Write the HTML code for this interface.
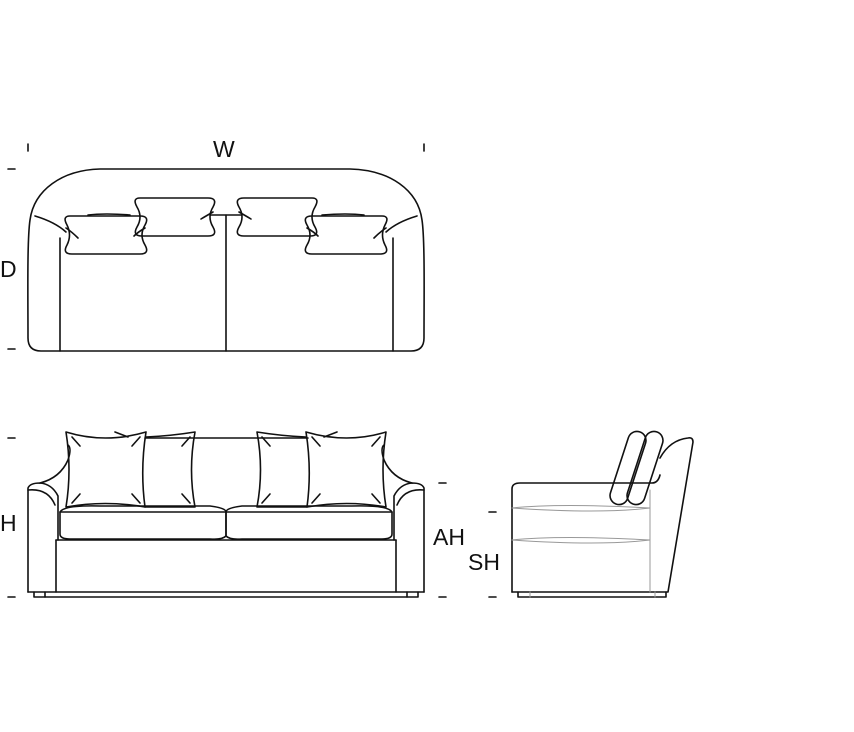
<!DOCTYPE html>
<html><head><style>html,body{margin:0;padding:0;background:#fff}svg{display:block}
text{font-family:"Liberation Sans",sans-serif;font-size:23px;fill:#111}</style></head>
<body>
<svg width="854" height="732" viewBox="0 0 854 732" xmlns="http://www.w3.org/2000/svg">
<g stroke="#111" stroke-width="1.6" fill="none" stroke-linejoin="round" stroke-linecap="round">
<!-- dimension ticks -->
<line x1="28" y1="144" x2="28" y2="151"/><line x1="424" y1="144" x2="424" y2="151"/>
<line x1="8" y1="169" x2="15" y2="169"/><line x1="8" y1="349" x2="15" y2="349"/>
<line x1="8" y1="438" x2="15" y2="438"/><line x1="8" y1="597" x2="15" y2="597"/>
<line x1="439" y1="483" x2="446" y2="483"/><line x1="439" y1="597" x2="446" y2="597"/>
<line x1="489" y1="512" x2="496" y2="512"/><line x1="489" y1="597" x2="496" y2="597"/>

<!-- TOP VIEW -->
<path d="M100,169 L350,169 C390,170 418,190 422,220 C425,240 424,300 424,338 Q424,351 411,351 L41,351 Q28,351 28,338 C28,300 27,240 30,220 C34,190 62,170 100,169 Z"/>
<line x1="60" y1="238" x2="60" y2="351"/>
<line x1="393" y1="238" x2="393" y2="351"/>
<line x1="226" y1="215" x2="226" y2="351"/>
<line x1="210" y1="215" x2="242" y2="215"/>
<path d="M35,216 Q55,222 66,232"/>
<path d="M417,216 Q397,222 386,232"/>
<!-- pillows left -->
<path d="M70,216 L140,216 Q150,216 145,225 Q139,235 145,245 Q150,254 140,254 L72,254 Q62,254 67,245 Q72,235 67,225 Q62,216 70,216 Z"/>
<path d="M88,215 Q105,213 130,215"/>
<path d="M140,198 L208,198 Q218,198 213,207 Q207,217 213,227 Q218,236 208,236 L142,236 Q132,236 137,227 Q143,217 137,207 Q132,198 140,198 Z"/>
<path d="M66,228 Q72,232 78,238"/><path d="M145,228 Q138,232 134,236"/><path d="M213,212 Q206,216 201,219"/>
<!-- pillows right -->
<path d="M382,216 L312,216 Q302,216 307,225 Q313,235 307,245 Q302,254 312,254 L380,254 Q390,254 385,245 Q380,235 385,225 Q390,216 382,216 Z"/>
<path d="M364,215 Q347,213 322,215"/>
<path d="M312,198 L244,198 Q234,198 239,207 Q245,217 239,227 Q234,236 244,236 L310,236 Q320,236 315,227 Q309,217 315,207 Q320,198 312,198 Z"/>
<path d="M386,228 Q380,232 374,238"/><path d="M307,228 Q314,232 318,236"/><path d="M239,212 Q246,216 251,219"/>

<!-- FRONT VIEW -->
<path d="M28,592 L28,488 Q30,483 40,483 Q52,484 58,496 L58,540"/>
<path d="M424,592 L424,488 Q422,483 412,483 Q400,484 394,496 L394,540"/>
<path d="M28,490 Q48,488 55,505"/>
<path d="M424,490 Q404,488 397,505"/>
<line x1="56" y1="540" x2="56" y2="592"/><line x1="396" y1="540" x2="396" y2="592"/>
<line x1="28" y1="592" x2="424" y2="592"/>
<path d="M34,592 L34,597 L418,597 L418,592"/>
<line x1="45" y1="592" x2="45" y2="597"/><line x1="407" y1="592" x2="407" y2="597"/>
<line x1="56" y1="540" x2="396" y2="540"/>
<path d="M60,512 Q64,505 100,506 L210,506 Q226,508 226,512 L226,536 Q222,540 210,539 L70,539 Q60,539 60,534 Z"/>
<path d="M392,512 Q388,505 352,506 L242,506 Q226,508 226,512 L226,536 Q230,540 242,539 L382,539 Q392,539 392,534 Z"/>
<line x1="60" y1="512" x2="392" y2="512"/>
<path d="M40,483 Q60,478 68,460 Q72,448 68,445"/>
<path d="M412,483 Q392,478 384,460 Q380,448 384,445"/>
<line x1="145" y1="438" x2="308" y2="438"/>
<!-- front pillows -->
<path d="M146,437 Q170,436 195,432 Q188,470 195,507 L145,507"/>
<path d="M115,432 L128,437"/>
<path d="M66,432 Q105,444 146,432 Q140,470 145,507 Q105,500 66,507 Q72,470 66,432 Z"/>
<path d="M306,437 Q282,436 257,432 Q264,470 257,507 L307,507"/>
<path d="M337,432 L324,437"/>
<path d="M386,432 Q347,444 306,432 Q312,470 307,507 Q347,500 386,507 Q380,470 386,432 Z"/>
<path d="M72,437 L80,446"/><path d="M140,437 L132,446"/><path d="M72,503 L80,494"/><path d="M140,503 L132,494"/>
<path d="M190,437 L182,446"/><path d="M190,503 L182,494"/>
<path d="M380,437 L372,446"/><path d="M312,437 L320,446"/><path d="M380,503 L372,494"/><path d="M312,503 L320,494"/>
<path d="M262,437 L270,446"/><path d="M262,503 L270,494"/>

<!-- SIDE VIEW -->
<path d="M512,592 L512,489 Q512,483 520,483 L652,483 Q658,483 660,475"/>
<path d="M512,592 L668,592 L693,442 Q693,437 688,438 Q670,440 660,458"/>
<path d="M518,592 L518,597 L666,597 L666,592"/>
<rect x="619" y="430" width="18" height="76" rx="9" transform="rotate(18 628 468)"/>
<rect x="636" y="430" width="18" height="76" rx="9" transform="rotate(18 645 468)"/>
<g stroke="#999" stroke-width="1">
<path d="M512,508 Q560,503 650,508 Q600,514 512,508 Z"/>
<path d="M512,540 Q560,535 650,540 Q600,546 512,540 Z"/>
<line x1="650" y1="490" x2="650" y2="592"/>
<line x1="530" y1="592" x2="530" y2="597"/><line x1="655" y1="592" x2="655" y2="597"/>
</g>
</g>
<text x="213" y="157">W</text>
<text x="0" y="277">D</text>
<text x="0" y="531">H</text>
<text x="433" y="545">AH</text>
<text x="468" y="570">SH</text>
</svg>
</body></html>
